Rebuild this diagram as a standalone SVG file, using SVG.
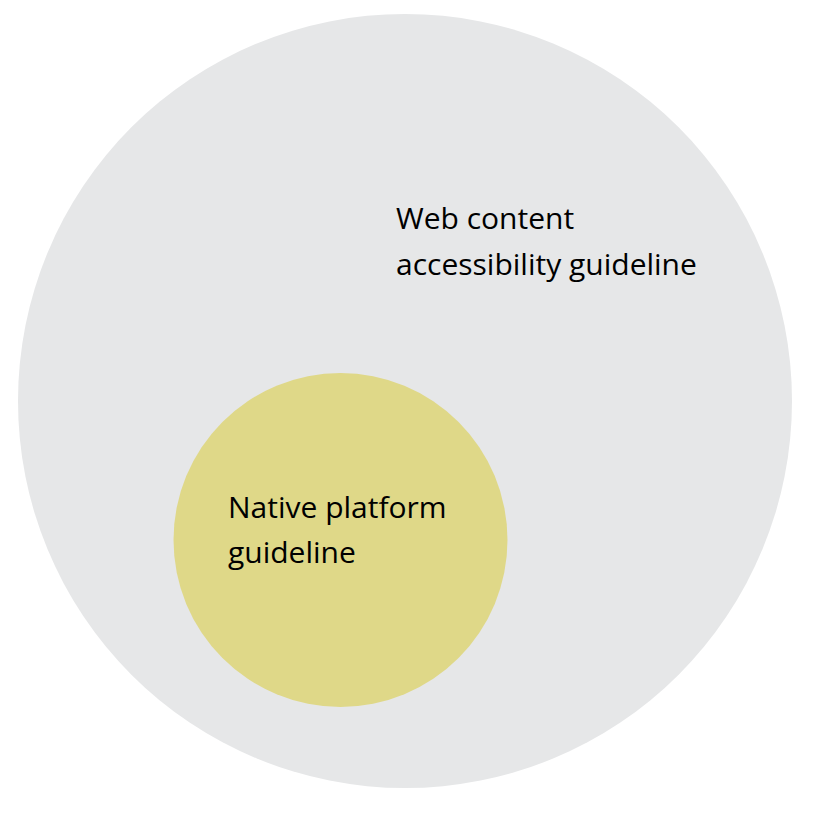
<svg xmlns="http://www.w3.org/2000/svg" width="815" height="816" viewBox="0 0 815 816">
<style>
.lbl{font-family:"Open Sans","Noto Sans",sans-serif;font-size:30px;fill:#000000}
</style>
<rect width="815" height="816" fill="#ffffff"/>
<g id="web-content">
<circle cx="405" cy="401" r="387" fill="#e6e7e8"/>
<text class="lbl" x="396" y="229">Web content</text>
<text class="lbl" x="396" y="275">accessibility guideline</text>
</g>
<g id="native-platform">
<circle cx="340.5" cy="540" r="167" fill="#dfd888"/>
<text class="lbl" x="228" y="518">Native platform</text>
<text class="lbl" x="228" y="563">guideline</text>
</g>
<g id="connectors"></g>
</svg>
